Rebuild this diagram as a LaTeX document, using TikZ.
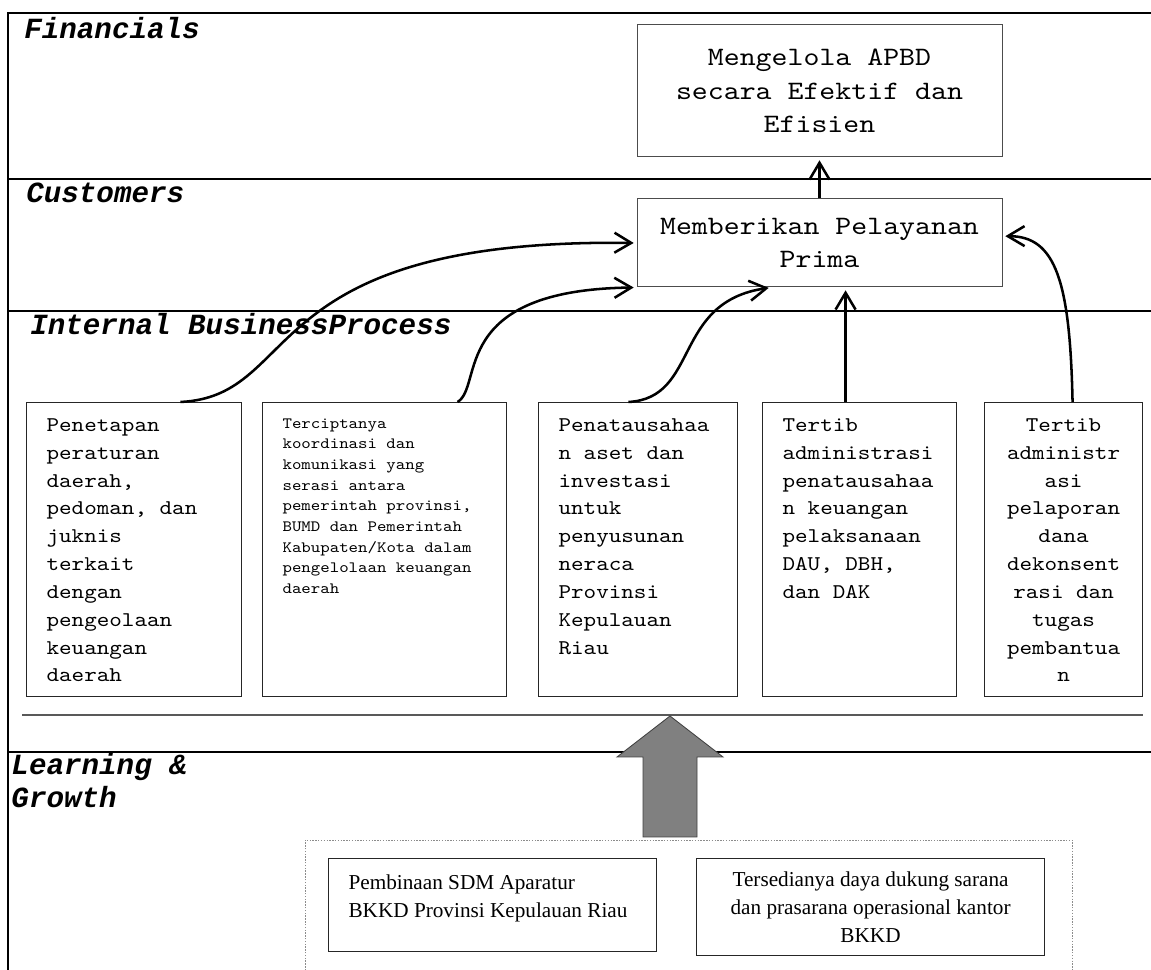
\documentclass[tikz,border=0pt]{standalone}
\usepackage{fontspec}
\setmainfont{Liberation Serif}
\newfontfamily\courier{Liberation Mono}
\newfontfamily\typewriter{lmmono10-regular}[Extension=.otf, FakeStretch=1.143]
\usetikzlibrary{arrows.meta}
\newcommand{\lanefont}{\courier\fontsize{20.8}{23.5}\selectfont\bfseries\itshape}
\newcommand{\goalfont}{\typewriter\fontsize{18.9}{24}\selectfont}
\newcommand{\procfont}{\typewriter\fontsize{14.9}{19.8}\selectfont}
\newcommand{\smallprocfont}{\typewriter\fontsize{11.2}{14.7}\selectfont}
\newcommand{\lgfont}{\fontsize{15.1}{19.8}\selectfont}
\newcommand{\toptext}[2]{\parbox[t][6.55cm][t]{#1}{#2}}

\begin{document}
\begin{tikzpicture}
      \tikzstyle{frame} = [line width=1.7pt]
      \tikzstyle{arrow} = [line width=1.8pt, shorten >=2pt, -{Straight Barb[length=0.42cm, width=0.5cm]}]
      \tikzstyle{lane} = [anchor=base west, inner sep=0pt, font=\lanefont]
      \tikzstyle{goal} = [rectangle, draw=black!70, line width=0.7pt, minimum width=9.125cm, align=center, font=\goalfont]
      \tikzstyle{process} = [rectangle, draw=black!85, line width=0.8pt, inner xsep=0.5cm, inner ysep=0.4cm, anchor=north west]
      \tikzstyle{lgbox} = [rectangle, draw=black!85, line width=0.8pt, anchor=north west]

      \useasboundingbox (0,0) rectangle (28.775,24.25);

      % perspective lanes
      \draw [frame] (0.2,0) -- (0.2,23.925) -- (28.775,23.925);
      \draw [frame] (0.2,19.775) -- (28.775,19.775);
      \draw [frame] (0.2,16.475) -- (28.775,16.475);
      \draw [line width=1.5pt, black!65] (0.55,6.375) -- (28.575,6.375);
      \draw [frame] (0.2,5.45) -- (28.775,5.45);

      \node[lane] (fin) at (0.6cm, 23.275cm) {Financials};
      \node[lane] (cust) at (0.65cm, 19.175cm) {Customers};
      \node[lane] (ibp) at (0.75cm, 15.875cm) {Internal BusinessProcess};
      \node[lane, anchor=north west, align=left] (lng) at (0.28cm, 5.43cm) {Learning \&\\Growth};

      \node[goal, minimum height=3.3cm] (mg) at (20.4875cm, 21.975cm) {Mengelola APBD\\secara Efektif dan\\Efisien};
      \node[goal, minimum height=2.2cm] (mb) at (20.4875cm, 18.175cm) {Memberikan Pelayanan\\Prima};

      \node[process] (p1) at (0.65cm, 14.2cm) {\toptext{4.375cm}{\raggedright\procfont Penetapan\\peraturan\\daerah,\\pedoman, dan\\juknis\\terkait\\dengan\\pengeolaan\\keuangan\\daerah}};
      \node[process] (p2) at (6.55cm, 14.2cm) {\toptext{5.1cm}{\raggedright\smallprocfont Terciptanya\\koordinasi dan\\komunikasi yang\\serasi antara\\pemerintah provinsi,\\BUMD dan Pemerintah\\Kabupaten/Kota dalam\\pengelolaan keuangan\\daerah}};
      \node[process] (p3) at (13.45cm, 14.2cm) {\toptext{3.975cm}{\raggedright\procfont Penatausahaa\\n aset dan\\investasi\\untuk\\penyusunan\\neraca\\Provinsi\\Kepulauan\\Riau}};
      \node[process] (p4) at (19.05cm, 14.2cm) {\toptext{3.85cm}{\raggedright\procfont Tertib\\administrasi\\penatausahaa\\n keuangan\\pelaksanaan\\DAU, DBH,\\dan DAK}};
      \node[process] (p5) at (24.6cm, 14.2cm) {\toptext{2.95cm}{\centering\procfont Tertib\\administr\\asi\\pelaporan\\dana\\dekonsent\\rasi dan\\tugas\\pembantua\\n}};

      \draw [arrow] (mb) -- (mg);
      \draw [arrow] ([xshift=1.16cm]p1.north) .. controls (7.6,14.35) and (6.3,18.3) .. (mb.west);
      \draw [arrow] ([xshift=1.825cm]p2.north) .. controls (12.1,14.6) and (11.2,17.0) .. (mb.south west);
      \draw [arrow] ([xshift=-0.24cm]p3.north) .. controls (17.5,14.3) and (16.8,16.7) .. ([xshift=-1.2cm]mb.south);
      \draw [arrow] ([xshift=-0.35cm]p4.north) -- ([xshift=-0.35cm]p4.north |- mb.south);
      \draw [arrow] ([xshift=0.225cm]p5.north) .. controls (26.75,17.2) and (26.4,18.35) .. ([yshift=0.17cm]mb.east);

      % learning & growth
      \draw [black!45, line width=0.5pt, dash pattern=on 1pt off 1pt] (7.625,-0.5) rectangle (26.8,3.25);
      \filldraw [fill=black!50, draw=black!75, line width=0.6pt] (16.75,6.35) -- (18.075,5.325) -- (17.425,5.325) -- (17.425,3.325) -- (16.075,3.325) -- (16.075,5.325) -- (15.425,5.325) -- cycle;

      \node[lgbox, inner xsep=0.5cm, inner ysep=0.4cm] (l1) at (8.2cm, 2.8cm) {\parbox[t][1.525cm][t]{7.2cm}{\lgfont Pembinaan SDM Aparatur\\BKKD Provinsi Kepulauan Riau}};
      \node[lgbox, minimum width=8.7cm, minimum height=2.425cm, align=center, font=\lgfont] (l2) at (17.4cm, 2.8cm) {Tersedianya daya dukung sarana\\dan prasarana operasional kantor\\BKKD};
\end{tikzpicture}
\end{document}
